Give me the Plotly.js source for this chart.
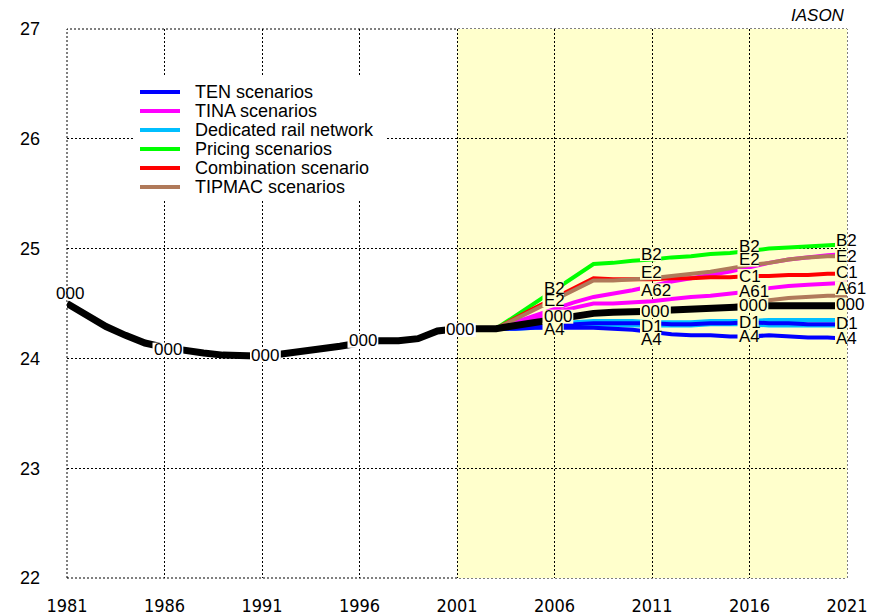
<!DOCTYPE html>
<html>
<head>
<meta charset="utf-8">
<script src="https://cdn.plot.ly/plotly-3.0.1.min.js"></script>
<style>
  html, body { margin: 0; padding: 0; background: #ffffff; }
  #chart { width: 878px; height: 616px; }
</style>
</head>
<body>
<div id="chart"></div>
<script>
// ---------------- DATA ----------------
const histYears = [1981,1982,1983,1984,1985,1986,1987,1988,1989,1990,1991,1992,1993,1994,1995,1996,1997,1998,1999,2000,2001,2002,2003,2004,2005,2006,2007,2008,2009,2010,2011,2012,2013,2014,2015,2016,2017,2018,2019,2020,2021];
const base000 = [24.50,24.39,24.29,24.21,24.14,24.10,24.07,24.05,24.03,24.02,24.02,24.04,24.06,24.09,24.11,24.14,24.16,24.16,24.18,24.25,24.27,24.27,24.27,24.30,24.33,24.36,24.39,24.41,24.42,24.42,24.43,24.44,24.45,24.46,24.47,24.47,24.48,24.48,24.48,24.48,24.48];

const scenYears = [2003,2004,2005,2006,2007,2008,2009,2010,2011,2012,2013,2014,2015,2016,2017,2018,2019,2020,2021];
const cyanD1   = [24.27,24.28,24.30,24.31,24.33,24.34,24.34,24.34,24.33,24.33,24.33,24.34,24.34,24.34,24.35,24.35,24.35,24.35,24.35];
const cyanD2   = [24.27,24.27,24.28,24.29,24.30,24.30,24.30,24.30,24.30,24.30,24.30,24.31,24.31,24.31,24.30,24.30,24.30,24.30,24.30];
const blueT2   = [24.27,24.28,24.29,24.30,24.31,24.32,24.32,24.32,24.32,24.31,24.31,24.32,24.32,24.33,24.32,24.32,24.31,24.31,24.31];
const blueA4   = [24.27,24.27,24.28,24.28,24.28,24.28,24.27,24.26,24.24,24.22,24.21,24.21,24.20,24.20,24.21,24.20,24.19,24.19,24.18];
const magA61   = [24.27,24.32,24.37,24.42,24.46,24.50,24.50,24.51,24.52,24.54,24.56,24.57,24.59,24.61,24.64,24.66,24.67,24.68,24.69];
const magA62   = [24.27,24.33,24.39,24.45,24.51,24.56,24.59,24.62,24.66,24.70,24.73,24.76,24.79,24.83,24.87,24.90,24.92,24.94,24.95];
const greenB2  = [24.27,24.39,24.51,24.63,24.75,24.86,24.87,24.89,24.90,24.92,24.93,24.95,24.96,24.98,25.00,25.01,25.02,25.03,25.04];
const redC1    = [24.27,24.37,24.46,24.55,24.64,24.73,24.72,24.72,24.72,24.73,24.73,24.74,24.74,24.75,24.75,24.76,24.76,24.77,24.77];
const brownE2  = [24.27,24.36,24.45,24.53,24.62,24.71,24.71,24.72,24.73,24.75,24.77,24.79,24.82,24.85,24.87,24.90,24.92,24.93,24.93];
const brownLow = [24.27,24.30,24.33,24.36,24.39,24.41,24.42,24.42,24.43,24.44,24.45,24.46,24.47,24.50,24.53,24.55,24.56,24.57,24.57];

const legendNames  = ["TEN scenarios","TINA scenarios","Dedicated rail network","Pricing scenarios","Combination scenario","TIPMAC scenarios"];
const legendColors = ["#0000ff","#ff00ff","#00bfff","#00ff00","#ff0000","#b07a5a"];

// line labels (year, text, level)
const labelYearsHist = [1981,1986,1991,1996,2001];
const labelValsHist  = [24.59,24.08,24.03,24.16,24.26];
const labelTexts2006 = ["B2","E2","000","A4"];
const labelVals2006  = [24.64,24.53,24.38,24.26];
const labelTexts2011 = ["B2","E2","A62","000","D1","A4"];
const labelVals2011  = [24.95,24.78,24.62,24.43,24.29,24.17];
const labelTexts2016 = ["B2","E2","C1","A61","000","D1","A4"];
const labelVals2016  = [25.02,24.90,24.75,24.61,24.48,24.33,24.20];
const labelTexts2021 = ["B2","E2","C1","A61","000","D1","A4"];
const labelVals2021  = [25.07,24.93,24.78,24.64,24.49,24.32,24.18];

const xTicks = [1981,1986,1991,1996,2001,2006,2011,2016,2021];
const yTicks = [22,23,24,25,26,27];

// ---------------- STYLE ----------------
const FONT = "Liberation Sans, Arial, Helvetica, sans-serif";
const NARROW = "Liberation Sans Narrow, Arial Narrow, DejaVu Sans Condensed, Liberation Sans, sans-serif";
const YELLOW = "#ffffcc";
const DASH = "2px,2px";
const M = {l:67, r:31, t:29, b:38};
const W = 878, H = 616;
const PW = W - M.l - M.r, PH = H - M.t - M.b;
const px2x = p => (p - M.l) / PW;
const px2y = p => (H - M.b - p) / PH;

const C = {ten:legendColors[0], tina:legendColors[1], rail:legendColors[2], pricing:legendColors[3], comb:legendColors[4], tipmac:legendColors[5]};

function ln(y, color, w) {
  return {x: scenYears, y: y, type: "scatter", mode: "lines", showlegend: false,
          line: {color: color, width: w || 4}, hoverinfo: "skip"};
}
const traces = [
  ln(cyanD2, C.rail), ln(cyanD1, C.rail), ln(blueT2, C.ten), ln(blueA4, C.ten),
  ln(magA61, C.tina), ln(magA62, C.tina), ln(greenB2, C.pricing),
  ln(redC1, C.comb), ln(brownE2, C.tipmac), ln(brownLow, C.tipmac),
  {x: histYears, y: base000, type: "scatter", mode: "lines", showlegend: false,
   line: {color: "#000000", width: 7}, hoverinfo: "skip"}
];

const shapes = [
  {type: "rect", xref: "x", yref: "y", x0: 2001, x1: 2021, y0: 22, y1: 27,
   fillcolor: YELLOW, line: {width: 0}, layer: "below"},
  {type: "rect", xref: "paper", yref: "paper", x0: 0, x1: 1, y0: 0, y1: 1,
   fillcolor: "rgba(0,0,0,0)", line: {color: "#000", width: 1, dash: DASH}, layer: "below"}
];
const annotations = [];

// label: a background patch (gap in the lines) plus the text on top
function addLabel(year, val, text, bg) {
  const w = text.length * 9.6 + 2;
  shapes.push({type: "rect", xref: "x", yref: "y", xsizemode: "pixel", ysizemode: "pixel",
    xanchor: year, yanchor: val, x0: -12, x1: -12 + w, y0: -7, y1: 7,
    fillcolor: bg, line: {width: 0}, layer: "above"});
  annotations.push({x: year, y: val, xref: "x", yref: "y", text: text, showarrow: false,
    xanchor: "left", yanchor: "middle", xshift: -12, borderpad: 0,
    font: {family: FONT, size: 17, color: "#000"}});
}
labelYearsHist.forEach((yr, i) => addLabel(yr, labelValsHist[i], "000", "#ffffff"));
labelTexts2006.forEach((t, i) => addLabel(2006, labelVals2006[i], t, YELLOW));
labelTexts2011.forEach((t, i) => addLabel(2011, labelVals2011[i], t, YELLOW));
labelTexts2016.forEach((t, i) => addLabel(2016, labelVals2016[i], t, YELLOW));
labelTexts2021.forEach((t, i) => addLabel(2021, labelVals2021[i], t, YELLOW));

annotations.push({x: 1, y: 1, xref: "paper", yref: "paper", xanchor: "right", yanchor: "bottom",
  yshift: 2, text: "<i>IASON</i>", showarrow: false, font: {family: FONT, size: 17, color: "#000"}});

// legend (drawn by hand so that the row spacing matches)
shapes.push({type: "rect", xref: "paper", yref: "paper", x0: px2x(135), x1: px2x(385), y0: px2y(200), y1: px2y(77),
   fillcolor: "#ffffff", line: {width: 0}, layer: "above"});
legendNames.forEach((name, i) => {
  const cy = 92 + 19 * i;
  shapes.push({type: "line", xref: "paper", yref: "paper", x0: px2x(140), x1: px2x(180),
    y0: px2y(cy), y1: px2y(cy), line: {color: legendColors[i], width: 4}, layer: "above"});
  annotations.push({x: px2x(193), y: px2y(cy), xref: "paper", yref: "paper", xanchor: "left",
    yanchor: "middle", text: name, showarrow: false, font: {family: FONT, size: 18, color: "#000"}});
});

const layout = {
  width: W, height: H,
  margin: M,
  paper_bgcolor: "#ffffff", plot_bgcolor: "rgba(0,0,0,0)",
  showlegend: false,
  xaxis: {range: [1981, 2021], tickvals: xTicks, ticktext: xTicks.map(String),
    showgrid: true, gridcolor: "#000", gridwidth: 1, griddash: DASH,
    zeroline: false, showline: false, ticks: "", ticklabelstandoff: 15,
    tickfont: {family: NARROW, size: 18, color: "#000"}},
  yaxis: {range: [22, 27], tickvals: yTicks, ticktext: yTicks.map(String),
    showgrid: true, gridcolor: "#000", gridwidth: 1, griddash: DASH,
    zeroline: false, showline: false, ticks: "", ticklabelstandoff: 26,
    tickfont: {family: FONT, size: 18, color: "#000"}},
  shapes: shapes,
  annotations: annotations
};

Plotly.newPlot("chart", traces, layout, {staticPlot: true, displayModeBar: false});
</script>
</body>
</html>
